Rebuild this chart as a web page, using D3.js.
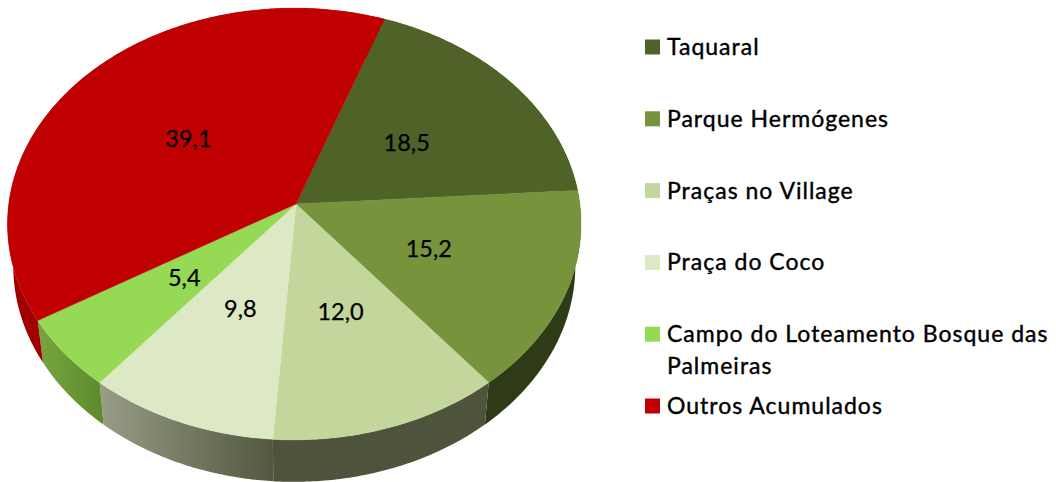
<!DOCTYPE html>
<html>
<head>
<meta charset="utf-8">
<script src="https://cdnjs.cloudflare.com/ajax/libs/d3/7.8.5/d3.min.js"></script>
<style>
  html, body { margin: 0; padding: 0; background: #fff; overflow: hidden; }
  text { font-family: Lato, "Open Sans", sans-serif; fill: #000; }
</style>
</head>
<body>
<div id="container"></div>
<script>
const categories = ["Taquaral", "Parque Hermógenes", "Praças no Village", "Praça do Coco",
                    "Campo do Loteamento Bosque das Palmeiras", "Outros Acumulados"];
const values = [18.5, 15.2, 12.0, 9.8, 5.4, 39.1];
const valueLabels = ["18,5", "15,2", "12,0", "9,8", "5,4", "39,1"];

const topColors = ["#4f6228", "#77933c", "#c3d69b", "#dde9c4", "#96d955", "#c00000"];
const wallColors = ["#3a4a1c", "#2f3a17", "#4e543c", "url(#wallCoco)", "url(#wallCampo)", "#a00000"];

const width = 1056, height = 482;

// perspective of the disc: apex sits above the middle of the ellipse
const apex = { x: 296, y: 204 },
      persp = -0.0926, perspX = 0.006,
      rx = 285.5, ry = 214,
      depth = 42, bottomScale = 0.98;

const project = (a, r, bottom) => {
  const u = r * Math.sin(a), v = -r * Math.cos(a), w = 1 + persp * v + perspX * u;
  const s = bottom ? bottomScale : 1;
  return [apex.x + s * rx * u / w, apex.y + (bottom ? depth : 0) + ry * v / w];
};

const startDeg = 19.7;
const pie = d3.pie().sort(null).startAngle(startDeg * Math.PI / 180).endAngle((startDeg + 360) * Math.PI / 180);
const slices = pie(values);
const line = d3.line();
const centroid = d3.arc().innerRadius(0).outerRadius(1);

const arcAngles = (a0, a1) => {
  const n = Math.ceil((a1 - a0) / 0.01);
  return d3.range(n + 1).map(i => a0 + (a1 - a0) * i / n);
};

const svg = d3.select("#container").append("svg")
  .attr("width", width)
  .attr("height", height)
  .style("display", "block");

// wall shading
const defs = svg.append("defs");
const grad = (id, x1, x2, c1, c2) => {
  const g = defs.append("linearGradient").attr("id", id)
    .attr("gradientUnits", "userSpaceOnUse")
    .attr("x1", x1).attr("x2", x2).attr("y1", 0).attr("y2", 0);
  g.append("stop").attr("offset", 0).attr("stop-color", c1);
  g.append("stop").attr("offset", 1).attr("stop-color", c2);
};
grad("wallCoco", 100, 272, "#979d86", "#53583f");
grad("wallCampo", 40, 104, "#76a53f", "#5c8a2b");

// side walls first, top faces go over them
svg.append("g").selectAll("path")
  .data(slices)
  .enter()
  .append("path")
  .attr("fill", (d, i) => wallColors[i])
  .attr("d", d => {
    const as = arcAngles(d.startAngle, d.endAngle);
    const pts = as.map(a => project(a, 1, false))
      .concat(as.slice().reverse().map(a => project(a, 1, true)));
    return line(pts) + "Z";
  });

// top faces
svg.append("g").selectAll("path")
  .data(slices)
  .enter()
  .append("path")
  .attr("fill", (d, i) => topColors[i])
  .attr("stroke", (d, i) => topColors[i])
  .attr("stroke-width", 0.4)
  .attr("d", d => {
    const pts = arcAngles(d.startAngle, d.endAngle).map(a => project(a, 1, false));
    return line([[apex.x, apex.y]].concat(pts)) + "Z";
  });

// value labels
svg.append("g").selectAll("text")
  .data(slices)
  .enter()
  .append("text")
  .attr("transform", d => {
    const [cx, cy] = centroid.centroid(d);
    const r = Math.hypot(cx, cy), a = Math.atan2(cx, -cy);
    const [x, y] = project(a, r, false);
    return `translate(${x},${y})`;
  })
  .attr("text-anchor", "middle")
  .attr("dy", "0.4em")
  .style("font-size", "23.5px")
  .style("stroke", "#000")
  .style("stroke-width", "0.25px")
  .text((d, i) => valueLabels[i]);

// legend
const legendY = d3.scalePoint().domain(categories).range([47, 406]);

const legend = svg.append("g").selectAll("g")
  .data(categories)
  .enter()
  .append("g")
  .attr("transform", d => `translate(645,${legendY(d)})`);

legend.append("rect")
  .attr("y", -7.5)
  .attr("width", 15)
  .attr("height", 15)
  .attr("fill", (d, i) => topColors[i]);

legend.append("text")
  .attr("x", 22)
  .attr("dy", "0.35em")
  .style("font-size", "23px")
  .style("letter-spacing", "1px")
  .style("stroke", "#000")
  .style("stroke-width", "0.4px")
  .each(function(d) {
    // wrap long names to the legend width
    const t = d3.select(this);
    let cur = t.append("tspan").attr("x", 22);
    let row = [];
    d.split(" ").forEach(w => {
      row.push(w);
      cur.text(row.join(" "));
      if (cur.node().getComputedTextLength() > 389) {
        row.pop();
        cur.text(row.join(" "));
        row = [w];
        cur = t.append("tspan").attr("x", 22).attr("dy", "32px").text(w);
      }
    });
  });
</script>
</body>
</html>
